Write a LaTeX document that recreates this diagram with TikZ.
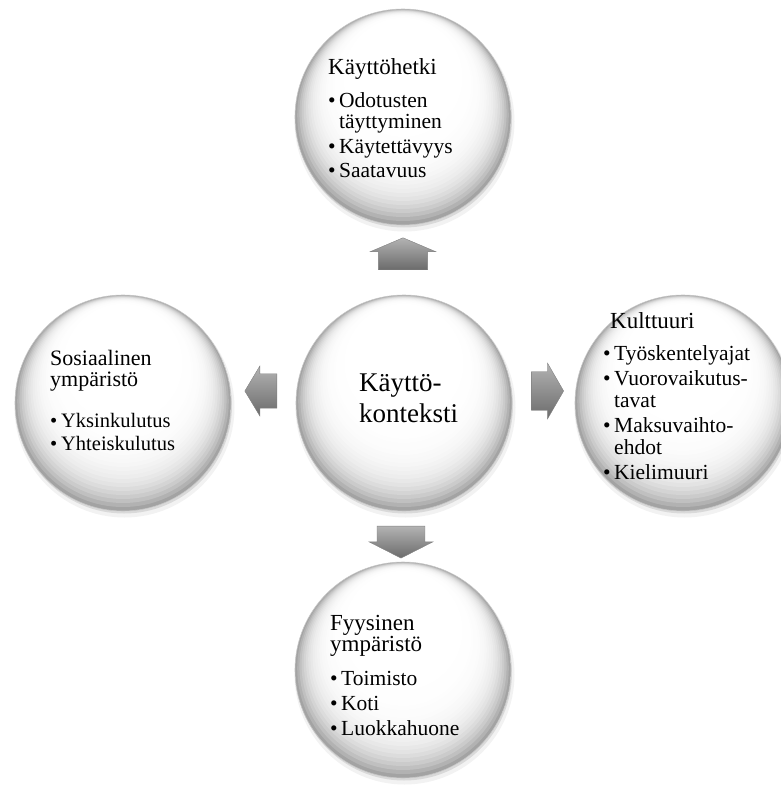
\documentclass[tikz,border=0pt]{standalone}
\usepackage{fontspec}
\setmainfont{Liberation Serif}
\usetikzlibrary{shapes.arrows,calc}
\newcommand\mkhd{\fontsize{23}{23}\selectfont}
\newcommand\mkit{\fontsize{21.5}{21.5}\selectfont}
\newcommand\mkbul{\makebox[11pt][l]{\textbullet}}
\newcommand\mkind{\hspace*{11pt}}
% shaded ball under a named node: shadow, graded fill, rim
\newcommand\mkball[1]{%
  \fill[black, opacity=0.05] ($(#1.center)+(1.5,4.5)$) circle (110pt);
  \fill[black, opacity=0.10] ($(#1.center)+(1,2.5)$) circle (108pt);
  \begin{scope}
    \clip (#1.center) circle (108pt);
    \foreach \t in {0,...,44} {
      \pgfmathsetmacro\mkg{36*(1-\t/44)^8}
      \pgfmathsetmacro\mkr{108-2.2*\t}
      \pgfmathsetmacro\mks{-1.8*\t}
      \fill[black!\mkg] ($(#1.center)+(0,\mks)$) circle (\mkr pt);
    }
  \end{scope}
  \draw[black!22, line width=0.6pt] (#1.center) circle (108pt);
}
\begin{document}
\begin{tikzpicture}[x=1pt,y=-1pt,
  ball/.style={circle, minimum size=216pt, inner sep=0pt},
  blockarr/.style={single arrow, single arrow head indent=0pt,
    draw=black!50, line width=0.4pt, top color=black!30, bottom color=black!58},
  txt/.style={anchor=base west, inner sep=0pt, font=\mkit}
]
\useasboundingbox (0,0) rectangle (780,787);
% circles
\path node[ball] (top) at (403,117) {}
      node[ball] (left) at (123,403) {}
      node[ball] (right) at (683,403) {}
      node[ball] (bottom) at (403,670) {}
      node[ball] (mid) at (404,403) {};
\mkball{top}
\mkball{left}
\mkball{right}
\mkball{bottom}
\mkball{mid}
% arrows
\node[blockarr, shape border rotate=90, minimum height=32pt, minimum width=66pt,
  inner xsep=20.5pt, inner ysep=0pt, single arrow tip angle=134] (aUp) at (403,259) {};
\node[blockarr, shape border rotate=270, minimum height=32pt, minimum width=64pt,
  inner xsep=21pt, inner ysep=0pt, single arrow tip angle=126] (aDown) at (401,536) {};
\node[blockarr, shape border rotate=180, minimum height=32pt, minimum width=50pt,
  inner ysep=15.5pt, inner xsep=0pt, single arrow tip angle=118] (aLeft) at (266,391) {};
\node[blockarr, shape border rotate=0, minimum height=32pt, minimum width=56pt,
  inner ysep=16pt, inner xsep=0pt, single arrow tip angle=120] (aRight) at (542,391) {};
% texts
\node[txt] (tMid) at (359,391) {\fontsize{27}{31}\selectfont
  \begin{tabular}[t]{@{}l@{}}Käyttö-\\konteksti\end{tabular}};
\node[txt] (tTop) at (328,74) {\begin{tabular}[t]{@{}l@{}}
  {\mkhd Käyttöhetki}\\[11.5pt]
  \mkbul Odotusten\\
  \mkind täyttyminen\\[3.5pt]
  \mkbul Käytettävyys\\[3pt]
  \mkbul Saatavuus
  \end{tabular}};
\node[txt] (tLeft) at (50,365) {\fontsize{20.5}{21.5}\selectfont\begin{tabular}[t]{@{}l@{}}
  {\fontsize{22}{22}\selectfont Sosiaalinen}\\[0pt]
  {\fontsize{22}{22}\selectfont ympäristö}\\[19pt]
  \mkbul Yksinkulutus\\[1.5pt]
  \mkbul Yhteiskulutus
  \end{tabular}};
\node[txt] (tRight) at (603,328) {\begin{tabular}[t]{@{}l@{}}
  \hspace*{7pt}{\mkhd Kulttuuri}\\[10.5pt]
  \mkbul Työskentelyajat\\[4pt]
  \mkbul Vuorovaikutus-\\
  \mkind tavat\\[4pt]
  \mkbul Maksuvaihto-\\
  \mkind ehdot\\[4pt]
  \mkbul Kielimuuri
  \end{tabular}};
\node[txt] (tBottom) at (330,630) {\begin{tabular}[t]{@{}l@{}}
  {\mkhd Fyysinen}\\[0pt]
  {\mkhd ympäristö}\\[12.5pt]
  \mkbul Toimisto\\[3.5pt]
  \mkbul Koti\\[3.5pt]
  \mkbul Luokkahuone
  \end{tabular}};
\end{tikzpicture}
\end{document}
